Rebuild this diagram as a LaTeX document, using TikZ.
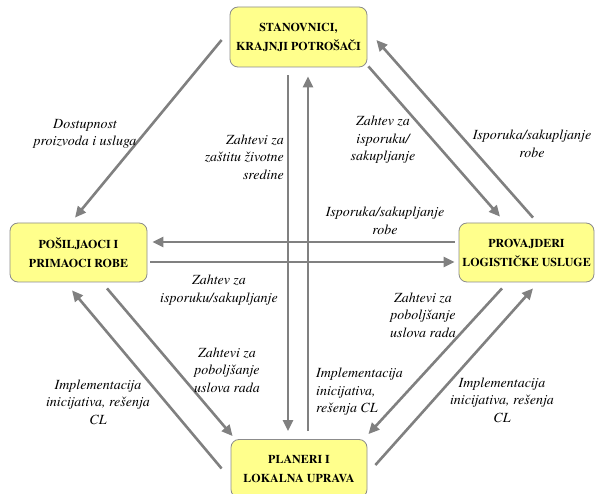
\documentclass[tikz,border=0pt]{standalone}
\usepackage{fontspec}
\setmainfont{texgyretermes}[Extension=.otf, UprightFont=*-regular, BoldFont=*-bold, ItalicFont=*-italic, BoldItalicFont=*-bolditalic]
\usetikzlibrary{arrows.meta,calc}
\definecolor{boxfill}{RGB}{255,255,140}
\definecolor{boxline}{RGB}{140,140,140}
\definecolor{arrgray}{RGB}{128,128,128}
\tikzset{
  actor/.style={draw=boxline, line width=0.8pt, fill=boxfill, rounded corners=8pt,
    align=center, inner sep=0pt, font=\bfseries\fontsize{12}{19}\selectfont},
  arr/.style={draw=arrgray, line width=2.6pt, -{Triangle[length=11pt,width=10pt]}},
  lbl/.style={font=\itshape\fontsize{14}{17.5}\selectfont, inner sep=0pt}
}
\begin{document}
\begin{tikzpicture}[x=1pt,y=-1pt]
\useasboundingbox (0,0) rectangle (595,494);
\fill[white] (0,0) rectangle (595,494);
\node[actor, minimum width=137pt, minimum height=60pt] (top) at (298.5,37) {STANOVNICI,\\KRAJNJI POTROŠAČI};
\node[actor, minimum width=137pt, minimum height=59pt] (left) at (78.5,252.5) {POŠILJAOCI I\\PRIMAOCI ROBE};
\node[actor, minimum width=135pt, minimum height=59pt] (right) at (526.5,252.5) {PROVAJDERI\\LOGISTIČKE USLUGE};
\node[actor, minimum width=136pt, minimum height=58pt] (bot) at (299,468.5) {PLANERI I\\LOKALNA UPRAVA};

% arrows
\draw[arr] ($(top.west)+(-8,3)$) -- ($(left.north)+(-3.5,-5)$);
\draw[arr] ($(top.south)+(-10.5,8)$) -- ($(bot.north)+(-11,-8)$);
\draw[arr] ($(bot.north)+(9,-8)$) -- ($(top.south)+(9.5,9)$);
\draw[arr] ($(top.south east)+(1,-1)$) -- ($(right.north)+(-26.5,-6)$);
\draw[arr] ($(right.north)+(6.5,-5)$) -- ($(top.east)+(9,3)$);
\draw[arr] ($(right.west)+(-4,-10.5)$) -- ($(left.east)+(5,-10.5)$);
\draw[arr] ($(left.east)+(3,9.5)$) -- ($(right.west)+(-4,9.5)$);
\draw[arr] ($(left.south)+(28.5,6)$) -- ($(bot.north west)+(2,-3)$);
\draw[arr] ($(bot.west)+(-9,0)$) -- ($(left.south)+(-6.5,8)$);
\draw[arr] ($(right.south)+(-24.5,6)$) -- ($(bot.north east)+(1,-5)$);
\draw[arr] ($(bot.east)+(8,-3.5)$) -- ($(right.south)+(6.5,6)$);

% labels
\node[lbl, align=center] (l1) at (85,134) {Dostupnost\\proizvoda i usluga};
\node[lbl, align=right, anchor=east] (l2) at (284,157) {Zahtevi za\\zaštitu životne\\sredine};
\node[lbl, align=center] (l3) at (383,140) {Zahtev za\\isporuku/\\sakupljanje};
\node[lbl, align=center] (l4) at (532,144) {Isporuka/sakupljanje\\robe};
\node[lbl, align=center] (l5) at (385,221) {Isporuka/sakupljanje\\robe};
\node[lbl, align=center] (l6) at (219,290) {Zahtev za\\isporuku/sakupljanje};
\node[lbl, align=center] (l7) at (227,370) {Zahtevi za\\poboljšanje\\uslova rada};
\node[lbl, align=center] (l8) at (98,402) {Implementacija\\inicijativa, rešenja\\CL};
\node[lbl, align=center] (l9) at (423,315) {Zahtevi za\\poboljšanje\\uslova rada};
\node[lbl, align=left, anchor=west] (l10) at (316,392) {Implementacija\\inicijativa,\\rešenja CL};
\node[lbl, align=center] (l11) at (502,400) {Implementacija\\inicijativa, rešenja\\CL};
\end{tikzpicture}
\end{document}
